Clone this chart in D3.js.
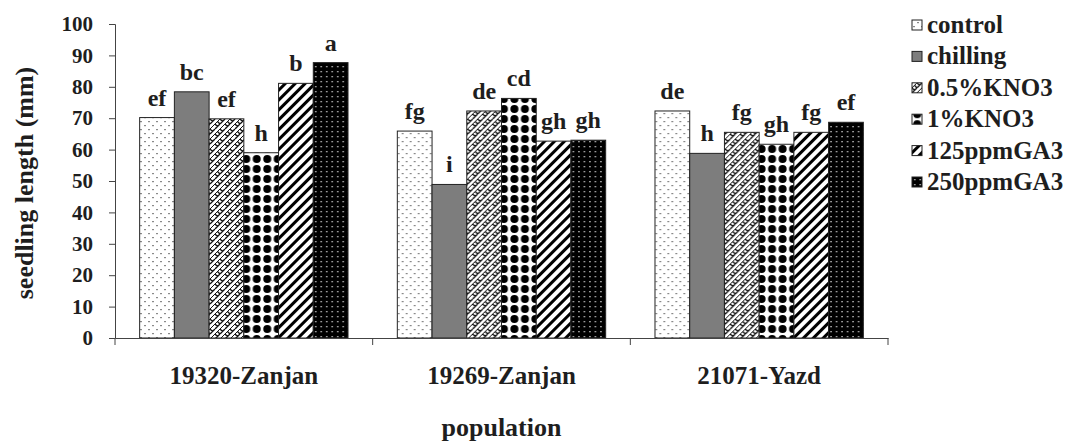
<!DOCTYPE html>
<html>
<head>
<meta charset="utf-8">
<script src="https://cdn.jsdelivr.net/npm/d3@7"></script>
<style>
  body { margin: 0; background: #fff; }
  svg { display: block; }
  text { font-family: "Liberation Serif", "Times New Roman", serif; font-weight: bold; fill: #1e1e1e; }
</style>
</head>
<body>
<svg width="1070" height="441"></svg>
<script>
// chart data
const categories = ["19320-Zanjan", "19269-Zanjan", "21071-Yazd"];
const treatments = ["control", "chilling", "0.5%KNO3", "1%KNO3", "125ppmGA3", "250ppmGA3"];

const controlValues = [70.2, 65.9, 72.3];
const chillingValues = [78.4, 48.9, 58.8];
const kno3HalfValues = [69.8, 72.3, 65.5];
const kno3OneValues = [59.0, 76.3, 61.7];
const ga125Values = [81.1, 62.7, 65.5];
const ga250Values = [87.7, 63.0, 68.7];

const controlLetters = ["ef", "fg", "de"];
const chillingLetters = ["bc", "i", "h"];
const kno3HalfLetters = ["ef", "de", "fg"];
const kno3OneLetters = ["h", "cd", "gh"];
const ga125Letters = ["b", "gh", "fg"];
const ga250Letters = ["a", "gh", "ef"];

const yTicks = [0, 10, 20, 30, 40, 50, 60, 70, 80, 90, 100];

const seriesValues = [controlValues, chillingValues, kno3HalfValues, kno3OneValues, ga125Values, ga250Values];
const seriesLetters = [controlLetters, chillingLetters, kno3HalfLetters, kno3OneLetters, ga125Letters, ga250Letters];

const svg = d3.select("svg");
const margin = { left: 115, right: 182, top: 24, bottom: 103 };
const plotW = 1070 - margin.left - margin.right;
const plotH = 441 - margin.top - margin.bottom;

// patterns (one per treatment)
const defs = svg.append("defs");

function pattern(id, w, h) {
  return defs.append("pattern")
    .attr("id", id)
    .attr("patternUnits", "userSpaceOnUse")
    .attr("width", w)
    .attr("height", h);
}

// control: white with light grey dots
let p = pattern("p0", 8, 8);
p.append("rect").attr("width", 8).attr("height", 8).attr("fill", "#fff");
p.append("rect").attr("x", 1).attr("y", 1).attr("width", 2).attr("height", 1.2).attr("fill", "#8a8a8a");
p.append("rect").attr("x", 5).attr("y", 5).attr("width", 2).attr("height", 1.2).attr("fill", "#8a8a8a");

// 0.5%KNO3: weave
p = pattern("p2", 10, 10);
p.append("rect").attr("width", 10).attr("height", 10).attr("fill", "#fff");
p.append("path")
  .attr("d", "M0,5 L5,0 M5,10 L10,5 M0,0 L2.5,2.5 M5,5 L7.5,7.5 M2.5,7.5 L5,10 M7.5,-2.5 L10,0")
  .attr("stroke", "#111").attr("stroke-width", 1.4).attr("fill", "none");
p.append("path")
  .attr("d", "M0,10 L10,0")
  .attr("stroke", "#111").attr("stroke-width", 1).attr("fill", "none");

// 1%KNO3: large black dots
p = pattern("p3", 10.5, 10);
p.append("rect").attr("width", 10.5).attr("height", 10).attr("fill", "#fff");
p.append("circle").attr("cx", 5.25).attr("cy", 5).attr("r", 4).attr("fill", "#000");

// 125ppmGA3: wide upward diagonal
p = pattern("p4", 7, 7).attr("patternTransform", "rotate(45)");
p.append("rect").attr("width", 7).attr("height", 7).attr("fill", "#fff");
p.append("rect").attr("width", 3).attr("height", 7).attr("fill", "#000");

// 250ppmGA3: black with small light dots
p = pattern("p5", 5.5, 5);
p.append("rect").attr("width", 5.5).attr("height", 5).attr("fill", "#000");
p.append("rect").attr("x", 2).attr("y", 2).attr("width", 1.5).attr("height", 1.3).attr("fill", "#bbb");

const fills = ["url(#p0)", "#7d7d7d", "url(#p2)", "url(#p3)", "url(#p4)", "url(#p5)"];

const g = svg.append("g").attr("transform", `translate(${margin.left},${margin.top})`);

const x0 = d3.scaleBand().domain(categories).range([0, plotW]);
const x1 = d3.scaleBand().domain(treatments).range([0, x0.bandwidth()]).paddingOuter(0.71);
const y = d3.scaleLinear().domain([0, 100]).range([plotH, 0]);

// bars
const groups = g.selectAll(".grp")
  .data(categories)
  .join("g")
  .attr("class", "grp")
  .attr("transform", (d) => `translate(${x0(d)},0)`);

groups.each(function (cat, ci) {
  const rows = treatments.map((t, ti) => ({ t, ti, v: seriesValues[ti][ci], l: seriesLetters[ti][ci] }));
  const sel = d3.select(this);
  sel.selectAll("rect")
    .data(rows)
    .join("rect")
    .attr("x", (d) => x1(d.t))
    .attr("y", (d) => y(d.v))
    .attr("width", x1.bandwidth())
    .attr("height", (d) => plotH - y(d.v))
    .attr("fill", (d) => fills[d.ti])
    .attr("stroke", "#222")
    .attr("stroke-width", 1);
  sel.selectAll("text")
    .data(rows)
    .join("text")
    .attr("x", (d) => x1(d.t) + x1.bandwidth() / 2)
    .attr("y", (d) => y(d.v) - 12)
    .attr("text-anchor", "middle")
    .style("font-size", "24px")
    .text((d) => d.l);
});

// y axis
const yAxis = g.append("g")
  .call(d3.axisLeft(y).tickValues(yTicks).tickSize(6).tickPadding(16));
yAxis.selectAll("text").style("font-size", "21px");

// x axis
const xAxis = g.append("g")
  .attr("transform", `translate(0,${plotH})`)
  .call(d3.axisBottom(x0).tickSize(0).tickPadding(28));
xAxis.selectAll("text").style("font-size", "25px");
xAxis.selectAll(".tick line").remove();
xAxis.selectAll(".sep")
  .data(d3.range(categories.length + 1))
  .join("line")
  .attr("x1", (i) => i * x0.step())
  .attr("x2", (i) => i * x0.step())
  .attr("y1", 0)
  .attr("y2", 7)
  .attr("stroke", "#444");

svg.selectAll(".domain").attr("stroke", "#444");
svg.selectAll(".tick line").attr("stroke", "#444");

// axis titles
svg.append("text")
  .attr("transform", `translate(27,${margin.top + plotH / 2 + 2}) rotate(-90)`)
  .attr("text-anchor", "middle")
  .attr("dominant-baseline", "middle")
  .style("font-size", "26px")
  .text("seedling length (mm)");

svg.append("text")
  .attr("x", margin.left + plotW / 2)
  .attr("y", 436)
  .attr("text-anchor", "middle")
  .style("font-size", "26px")
  .text("population");

// legend
const legend = svg.append("g").attr("transform", "translate(912,25)");
const items = legend.selectAll("g")
  .data(treatments)
  .join("g")
  .attr("transform", (d, i) => `translate(0,${i * 31.4})`);
items.append("rect")
  .attr("x", 0).attr("y", -5)
  .attr("width", 10).attr("height", 10)
  .attr("fill", (d, i) => fills[i])
  .attr("stroke", "#222");
items.append("text")
  .attr("x", 15)
  .attr("y", 8)
  .style("font-size", "25px")
  .text((d) => d);
</script>
</body>
</html>
